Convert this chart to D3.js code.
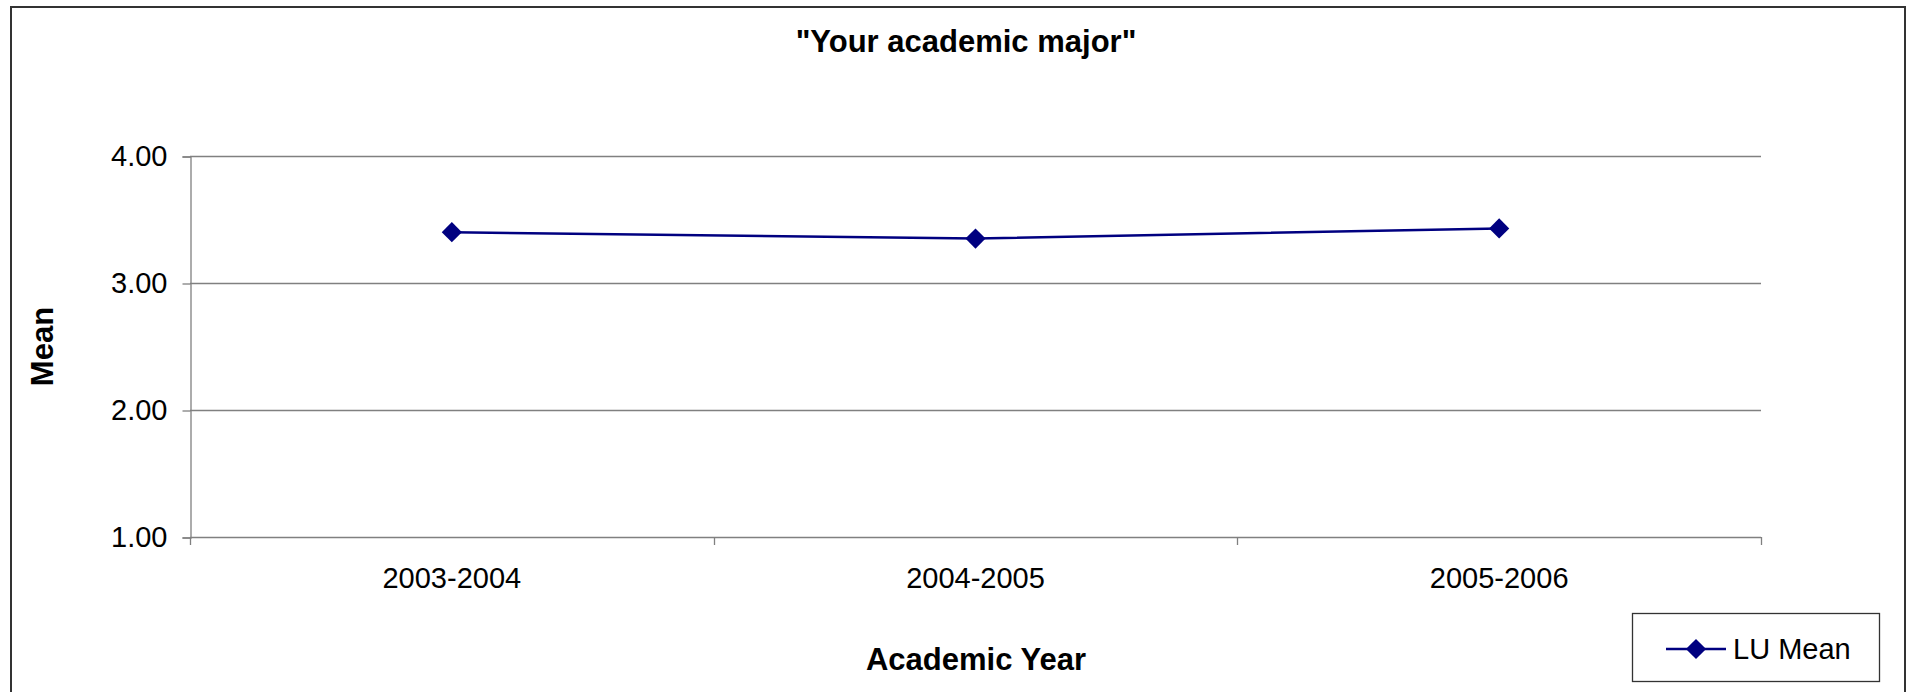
<!DOCTYPE html>
<html>
<head>
<meta charset="utf-8">
<script src="https://cdn.jsdelivr.net/npm/d3@7"></script>
<style>
  html, body { margin: 0; padding: 0; background: #fff; }
  svg { display: block; font-family: "Liberation Sans", Arial, sans-serif; }
</style>
</head>
<body>
<svg id="chart" width="1913" height="692"></svg>
<script>
// Data
var years = ["2003-2004", "2004-2005", "2005-2006"];
var luMean = [3.40, 3.35, 3.43];
var yTicks = [1, 2, 3, 4];

var width = 1913, height = 692;
var plot = { left: 190, right: 1761, top: 156, bottom: 537 };

var svg = d3.select("#chart");

// Outer chart frame (bottom edge runs off the picture)
svg.append("path")
  .attr("d", "M11,700 V7 H1905 V700")
  .attr("fill", "none")
  .attr("stroke", "#333")
  .attr("stroke-width", 2);

var x = d3.scaleBand()
  .domain(years)
  .range([plot.left, plot.right])
  .padding(0);

var y = d3.scaleLinear()
  .domain([1, 4])
  .range([plot.bottom, plot.top]);

// Horizontal gridlines
svg.append("g")
  .selectAll("line")
  .data(yTicks)
  .enter().append("line")
  .attr("x1", plot.left)
  .attr("x2", plot.right)
  .attr("y1", function(d) { return Math.round(y(d)) + 0.5; })
  .attr("y2", function(d) { return Math.round(y(d)) + 0.5; })
  .attr("stroke", "#808080")
  .attr("stroke-width", 1.3);

// Y axis
var yAxis = svg.append("g")
  .attr("transform", "translate(" + (plot.left + 0.5) + ",0.5)")
  .call(d3.axisLeft(y)
    .tickValues(yTicks)
    .tickFormat(d3.format(".2f"))
    .tickSize(8)
    .tickPadding(15));
yAxis.select(".domain").attr("stroke", "#808080").attr("stroke-width", 1.3);
yAxis.selectAll(".tick line").attr("stroke", "#808080").attr("stroke-width", 1.3);
yAxis.selectAll("text")
  .attr("fill", "#000")
  .style("font-size", "29px");

// X axis: labels centred in each band, ticks on band edges
var xAxis = svg.append("g")
  .attr("transform", "translate(0," + (plot.bottom + 0.5) + ")")
  .call(d3.axisBottom(x).tickSize(0).tickPadding(30));
xAxis.select(".domain").remove();
xAxis.selectAll("text")
  .attr("fill", "#000")
  .style("font-size", "29px");

var edges = years.map(function(d) { return x(d); }).concat([x(years[years.length - 1]) + x.bandwidth()]);
svg.append("g")
  .selectAll("line")
  .data(edges)
  .enter().append("line")
  .attr("x1", function(d) { return Math.round(d) + 0.5; })
  .attr("x2", function(d) { return Math.round(d) + 0.5; })
  .attr("y1", plot.bottom)
  .attr("y2", plot.bottom + 8)
  .attr("stroke", "#808080")
  .attr("stroke-width", 1.3);

// Series line and diamond markers
var cx = function(d, i) { return x(years[i]) + x.bandwidth() / 2; };
var line = d3.line()
  .x(cx)
  .y(function(d) { return y(d); });

svg.append("path")
  .datum(luMean)
  .attr("d", line)
  .attr("fill", "none")
  .attr("stroke", "#000080")
  .attr("stroke-width", 2.5);

var diamond = d3.symbol().type(d3.symbolDiamond2).size(260);
svg.append("g")
  .selectAll("path")
  .data(luMean)
  .enter().append("path")
  .attr("d", diamond)
  .attr("transform", function(d, i) { return "translate(" + cx(d, i) + "," + y(d) + ")"; })
  .attr("fill", "#000080");

// Title and axis titles
svg.append("text")
  .attr("x", 966)
  .attr("y", 52)
  .attr("text-anchor", "middle")
  .style("font-size", "31px")
  .style("font-weight", "bold")
  .text("\"Your academic major\"");

svg.append("text")
  .attr("x", 976)
  .attr("y", 670)
  .attr("text-anchor", "middle")
  .style("font-size", "31px")
  .style("font-weight", "bold")
  .text("Academic Year");

svg.append("text")
  .attr("transform", "translate(53," + ((plot.top + plot.bottom) / 2) + ") rotate(-90)")
  .attr("text-anchor", "middle")
  .style("font-size", "31px")
  .style("font-weight", "bold")
  .text("Mean");

// Legend
var legend = svg.append("g");
legend.append("rect")
  .attr("x", 1632.5)
  .attr("y", 613.5)
  .attr("width", 247)
  .attr("height", 68)
  .attr("fill", "#fff")
  .attr("stroke", "#333")
  .attr("stroke-width", 1.3);
legend.append("line")
  .attr("x1", 1666)
  .attr("x2", 1726)
  .attr("y1", 649)
  .attr("y2", 649)
  .attr("stroke", "#000080")
  .attr("stroke-width", 2.5);
legend.append("path")
  .attr("d", diamond)
  .attr("transform", "translate(1696,649)")
  .attr("fill", "#000080");
legend.append("text")
  .attr("x", 1733)
  .attr("y", 659)
  .style("font-size", "29px")
  .text("LU Mean");
</script>
</body>
</html>
